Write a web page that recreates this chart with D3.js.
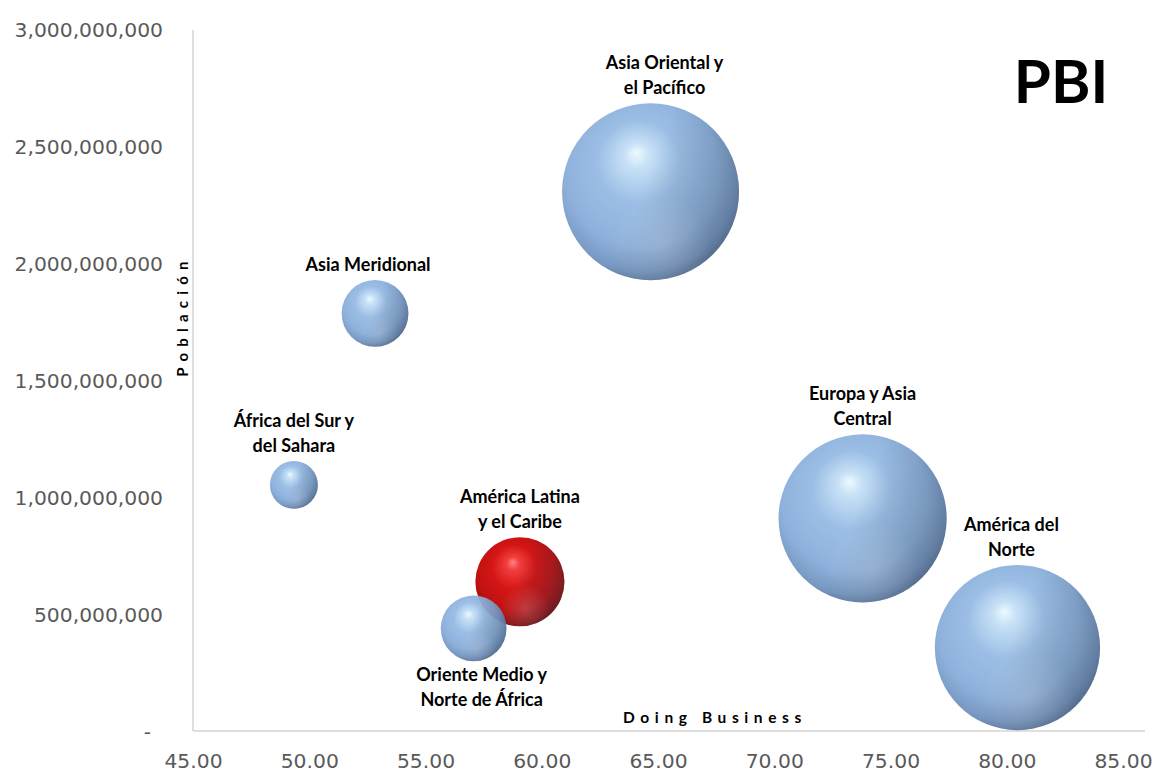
<!DOCTYPE html>
<html lang="es">
<head>
<meta charset="utf-8">
<script src="https://cdn.jsdelivr.net/npm/d3@7"></script>
<style>
  html, body { margin: 0; padding: 0; background: #fff; }
  svg { display: block; }
</style>
</head>
<body>
<svg id="chart" width="1155" height="774"></svg>
<script>
// Regiones del mundo: Doing Business (x), población (y) y PBI (tamaño de la burbuja)
const regions = [
  "Asia Oriental y el Pacífico",
  "Europa y Asia Central",
  "América del Norte",
  "América Latina y el Caribe",
  "Asia Meridional",
  "Oriente Medio y Norte de África",
  "África del Sur y del Sahara"
];
const labelLines = [
  ["Asia Oriental y", "el Pacífico"],
  ["Europa y Asia", "Central"],
  ["América del", "Norte"],
  ["América Latina", "y el Caribe"],
  ["Asia Meridional"],
  ["Oriente Medio y", "Norte de África"],
  ["África del Sur y", "del Sahara"]
];
const doingBusiness = [64.68, 73.80, 80.46, 59.06, 52.83, 57.07, 49.34];
const population    = [2309000000, 913000000, 361000000, 642000000, 1789000000, 443000000, 1056000000];
const pbi           = [22.5, 20.3, 19.6, 5.7, 3.2, 3.1, 1.65]; // billones de US$
const highlighted   = "América Latina y el Caribe";
const labelBelow    = ["Oriente Medio y Norte de África"];

const xTicks = [45, 50, 55, 60, 65, 70, 75, 80, 85];
const yTicks = [0, 500000000, 1000000000, 1500000000, 2000000000, 2500000000, 3000000000];

const svg = d3.select("#chart");
const defs = svg.append("defs");

const x = d3.scaleLinear().domain([45, 85]).range([193, 1123]);
const y = d3.scaleLinear().domain([0, 3000000000]).range([732, 30]);
const r = d3.scaleSqrt().domain([0, d3.max(pbi)]).range([0, 88.5]);

// Sphere shading
function sphereGradient(id, stops) {
  const g = defs.append("radialGradient")
    .attr("id", id)
    .attr("cx", "0.46").attr("cy", "0.42").attr("r", "0.62")
    .attr("fx", "0.42").attr("fy", "0.28");
  stops.forEach(([o, c]) => g.append("stop").attr("offset", o).attr("stop-color", c));
}
sphereGradient("blueBall", [
  [0, "#ecfaff"], [0.12, "#c2def6"], [0.38, "#95bae4"],
  [0.7, "#86abd9"], [0.88, "#6e91be"], [1, "#4f6a8e"]
]);
sphereGradient("redBall", [
  [0, "#ff7a7a"], [0.12, "#f23030"], [0.4, "#d20404"],
  [0.72, "#bb0000"], [0.9, "#8e0000"], [1, "#5e0000"]
]);
// right-side shadow
const shade = defs.append("linearGradient").attr("id", "shade")
  .attr("x1", "0").attr("y1", "0.3").attr("x2", "1").attr("y2", "0.7");
shade.append("stop").attr("offset", 0.45).attr("stop-color", "#1b2a40").attr("stop-opacity", 0);
shade.append("stop").attr("offset", 1).attr("stop-color", "#1b2a40").attr("stop-opacity", 0.32);
// soft reflection near the bottom
const refl = defs.append("radialGradient").attr("id", "refl")
  .attr("cx", "0.56").attr("cy", "0.8").attr("r", "0.28");
refl.append("stop").attr("offset", 0).attr("stop-color", "#ffffff").attr("stop-opacity", 0.16);
refl.append("stop").attr("offset", 1).attr("stop-color", "#ffffff").attr("stop-opacity", 0);

// Axes
svg.append("line").attr("x1", x(45)).attr("x2", x(45)).attr("y1", y(3000000000)).attr("y2", y(0) - 1)
  .attr("stroke", "#bfbfbf").attr("stroke-width", 1);
svg.append("line").attr("x1", x(45)).attr("x2", 1145).attr("y1", y(0) - 1).attr("y2", y(0) - 1)
  .attr("stroke", "#bfbfbf").attr("stroke-width", 1);

const tickFont = "'DejaVu Sans', sans-serif";
const yAxis = svg.append("g").attr("transform", `translate(${x(45)},0)`)
  .call(d3.axisLeft(y).tickValues(yTicks).tickSize(0).tickPadding(30)
    .tickFormat(d => d === 0 ? "-" : d3.format(",")(d)));
const xAxis = svg.append("g").attr("transform", `translate(0,${y(0) - 1})`)
  .call(d3.axisBottom(x).tickValues(xTicks).tickSize(0).tickPadding(23)
    .tickFormat(d3.format(".2f")));
[yAxis, xAxis].forEach(a => {
  a.select(".domain").remove();
  a.selectAll("text").attr("font-family", tickFont).attr("font-size", 20.3).attr("fill", "#595959");
});
yAxis.selectAll(".tick").filter(d => d === 0).select("text").attr("dx", -12);

// Axis titles
const boldFont = "Lato, 'Open Sans', sans-serif";
svg.append("text")
  .attr("transform", `translate(188,316) rotate(-90)`)
  .attr("text-anchor", "middle")
  .attr("font-family", boldFont).attr("font-weight", 700).attr("font-size", 15)
  .attr("letter-spacing", 6.2).attr("fill", "#000")
  .text("Población");
svg.append("text")
  .attr("x", 715).attr("y", 723)
  .attr("text-anchor", "middle")
  .attr("font-family", boldFont).attr("font-weight", 700).attr("font-size", 15.5)
  .attr("letter-spacing", 5.6).attr("fill", "#000")
  .text("Doing Business");

// Title
svg.append("text")
  .attr("x", 1061).attr("y", 103)
  .attr("text-anchor", "middle")
  .attr("font-family", boldFont).attr("font-weight", 700).attr("font-size", 60)
  .attr("fill", "#000")
  .text("PBI");

// Bubbles (largest first so smaller ones sit on top)
const data = regions.map((name, i) => ({
  name, lines: labelLines[i],
  x: doingBusiness[i], y: population[i], v: pbi[i]
}));
const order = data.slice().sort((a, b) => b.v - a.v);

const bubbles = svg.append("g").selectAll("g").data(order).join("g")
  .attr("transform", d => `translate(${x(d.x)},${y(d.y)})`)
  .attr("opacity", 0.93);
bubbles.append("circle").attr("r", d => r(d.v))
  .attr("fill", d => d.name === highlighted ? "url(#redBall)" : "url(#blueBall)");
bubbles.append("circle").attr("r", d => r(d.v)).attr("fill", "url(#shade)");
bubbles.append("circle").attr("r", d => r(d.v)).attr("fill", "url(#refl)");

// Data labels
const labelNudge = {
  "Asia Oriental y el Pacífico": 14,
  "Asia Meridional": -7,
  "América del Norte": -6,
  "Oriente Medio y Norte de África": 8
};
const lineH = 25;
const labels = svg.append("g").selectAll("text").data(data).join("text")
  .attr("text-anchor", "middle")
  .attr("font-family", boldFont).attr("font-weight", 700).attr("font-size", 18)
  .attr("fill", "#000")
  .attr("transform", d => {
    const cx = x(d.x) + (labelNudge[d.name] || 0);
    const rad = r(d.v);
    const below = labelBelow.includes(d.name);
    const y0 = below ? y(d.y) + rad + 20
                     : y(d.y) - rad - 9 - (d.lines.length - 1) * lineH;
    return `translate(${cx},${y0})`;
  });
labels.selectAll("tspan").data(d => d.lines).join("tspan")
  .attr("x", 0).attr("dy", (d, i) => i === 0 ? 0 : lineH)
  .text(d => d);
</script>
</body>
</html>
